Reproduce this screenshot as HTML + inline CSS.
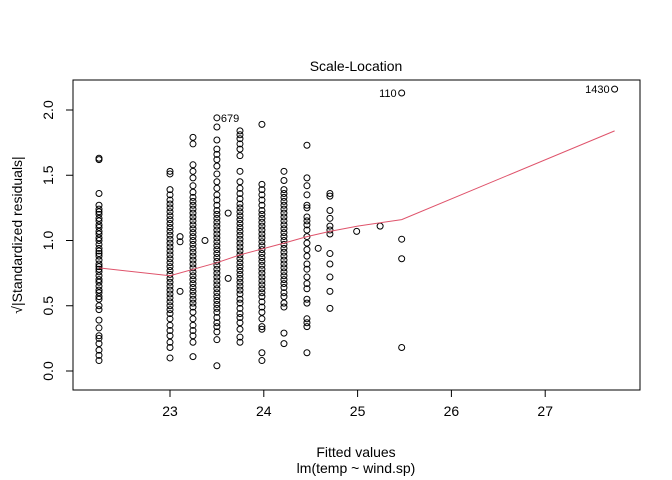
<!DOCTYPE html>
<html><head><meta charset="utf-8"><style>
body{margin:0;background:#fff;}
svg{display:block;font-family:"Liberation Sans",Arial,sans-serif;}
</style></head><body>
<svg id="chart" width="672" height="480" viewBox="0 0 672 480">
<rect x="0" y="0" width="672" height="480" fill="#fff"/>
<g id="pts"></g>
<g id="axes"></g>
</svg>
<script>
const xTicks=[23,24,25,26,27];
const yTicks=[0.0,0.5,1.0,1.5,2.0];
const yTickLabels=["0.0","0.5","1.0","1.5","2.0"];
const colFitted=[22.243,23.0,23.107,23.245,23.373,23.5,23.62,23.746,23.98,24.215,24.46,24.58,24.705,24.99,25.24,25.47,27.74];
const colResid=[
[1.63,1.62,1.36,1.27,1.24,1.22,1.2,1.17,1.15,1.12,1.1,1.07,1.05,1.02,1.0,0.97,0.94,0.92,0.9,0.88,0.85,0.82,0.8,0.78,0.76,0.73,0.7,0.68,0.65,0.62,0.6,0.57,0.55,0.5,0.47,0.39,0.33,0.27,0.25,0.21,0.16,0.12,0.08],
[1.53,1.51,1.39,1.35,1.31,1.28,1.25,1.22,1.19,1.16,1.13,1.1,1.07,1.04,1.01,0.98,0.95,0.92,0.89,0.86,0.83,0.8,0.77,0.74,0.71,0.68,0.65,0.62,0.59,0.56,0.53,0.5,0.47,0.44,0.4,0.35,0.31,0.27,0.22,0.18,0.1],
[1.03,0.99,0.61],
[1.79,1.74,1.58,1.53,1.48,1.42,1.37,1.33,1.3,1.27,1.24,1.21,1.18,1.15,1.12,1.09,1.06,1.03,1.0,0.97,0.94,0.91,0.88,0.85,0.82,0.79,0.76,0.73,0.7,0.67,0.64,0.61,0.58,0.55,0.52,0.49,0.45,0.4,0.35,0.31,0.27,0.22,0.11],
[1.0],
[1.94,1.87,1.77,1.7,1.66,1.62,1.57,1.51,1.45,1.4,1.35,1.31,1.27,1.23,1.2,1.17,1.14,1.11,1.08,1.05,1.02,0.99,0.96,0.93,0.9,0.87,0.84,0.81,0.78,0.75,0.72,0.69,0.66,0.63,0.6,0.57,0.54,0.51,0.48,0.45,0.41,0.37,0.34,0.3,0.24,0.04],
[1.21,0.71],
[1.84,1.81,1.78,1.74,1.7,1.65,1.53,1.45,1.4,1.36,1.32,1.28,1.25,1.22,1.19,1.16,1.13,1.1,1.07,1.04,1.01,0.98,0.95,0.92,0.89,0.86,0.83,0.8,0.77,0.74,0.71,0.68,0.65,0.62,0.59,0.55,0.52,0.48,0.44,0.41,0.37,0.32,0.26,0.22],
[1.89,1.43,1.39,1.35,1.31,1.27,1.23,1.2,1.17,1.14,1.11,1.08,1.05,1.02,0.99,0.96,0.93,0.9,0.87,0.84,0.81,0.78,0.75,0.72,0.69,0.66,0.63,0.6,0.57,0.53,0.49,0.45,0.4,0.34,0.32,0.14,0.08],
[1.53,1.46,1.39,1.36,1.33,1.3,1.27,1.24,1.21,1.18,1.15,1.12,1.09,1.06,1.03,1.0,0.97,0.94,0.91,0.88,0.85,0.82,0.79,0.76,0.73,0.7,0.67,0.64,0.6,0.57,0.52,0.49,0.29,0.21],
[1.73,1.48,1.42,1.35,1.27,1.25,1.18,1.15,1.12,1.08,1.03,0.98,0.93,0.88,0.82,0.78,0.72,0.67,0.63,0.55,0.52,0.4,0.37,0.34,0.14],
[0.94],
[1.36,1.34,1.23,1.17,1.11,1.08,1.05,0.9,0.82,0.72,0.61,0.48],
[1.07],
[1.11],
[2.13,1.01,0.86,0.18],
[2.16]
];
const smoothX=[22.243,23.0,23.5,23.746,23.98,24.215,24.46,24.705,25.0,25.47,27.74];
const smoothY=[0.79,0.73,0.83,0.89,0.935,0.98,1.03,1.07,1.11,1.16,1.84];
const ptLabels=[{t:"679",x:23.5,y:1.94},{t:"110",x:25.47,y:2.13},{t:"1430",x:27.74,y:2.16}];

const L=73,R=640,T=80,B=390;
function sx(v){return 170+(v-23)*93.8;}
function sy(v){return 371-v*130.5;}
const NS="http://www.w3.org/2000/svg";
function mk(tag,attrs,parent){const e=document.createElementNS(NS,tag);for(const k in attrs)e.setAttribute(k,attrs[k]);parent.appendChild(e);return e;}
const pts=document.getElementById('pts'),ax=document.getElementById('axes');
colFitted.forEach((f,i)=>{colResid[i].forEach(r=>{
 const c=mk('circle',{cx:sx(f),cy:sy(r),r:3,fill:'none',stroke:'#000','stroke-width':1},pts);
 
 
});});
const line=mk('polyline',{points:smoothX.map((x,i)=>sx(x)+','+sy(smoothY[i])).join(' '),fill:'none',stroke:'#DF536B','stroke-width':1},pts);


ptLabels.forEach(p=>{
 const anchor=p.t==="679"?'start':'end';
 const dx=p.t==="679"?4:-5;
 const t=mk('text',{x:sx(p.x)+dx,y:sy(p.y)+4,'font-size':11,'text-anchor':anchor},pts);
 t.textContent=p.t;
 
 
});
const box=mk('rect',{x:L,y:T,width:R-L,height:B-T,fill:'none',stroke:'#000','stroke-width':1},ax);


xTicks.forEach(v=>{
 const l=mk('line',{x1:sx(v),x2:sx(v),y1:B,y2:B+7,stroke:'#000'},ax);
 
 
 const t=mk('text',{x:sx(v),y:B+26,'font-size':14,'text-anchor':'middle'},ax);
 t.textContent=v;
 
 
});
yTicks.forEach((v,i)=>{
 const l=mk('line',{x1:L-7,x2:L,y1:sy(v),y2:sy(v),stroke:'#000'},ax);
 
 
 const t=mk('text',{x:0,y:0,'font-size':14,'text-anchor':'middle',transform:'translate('+(L-20)+','+sy(v)+') rotate(-90)'},ax);
 t.textContent=yTickLabels[i];
 
 
});
function txt(s,x,y,size,name,rot){const t=mk('text',{x:0,y:0,'font-size':size,'text-anchor':'middle',transform:'translate('+x+','+y+')'+(rot?' rotate(-90)':'')},ax);t.textContent=s;}
txt('Scale-Location',356,71,14,'chart-title');
txt('Fitted values',356,457,14,'x-axis-title');
txt('lm(temp ~ wind.sp)',356,473,14,'x-axis-subtitle');
txt('\u221A|Standardized residuals|',22,235,14,'y-axis-title',true);
</script>
</body></html>
